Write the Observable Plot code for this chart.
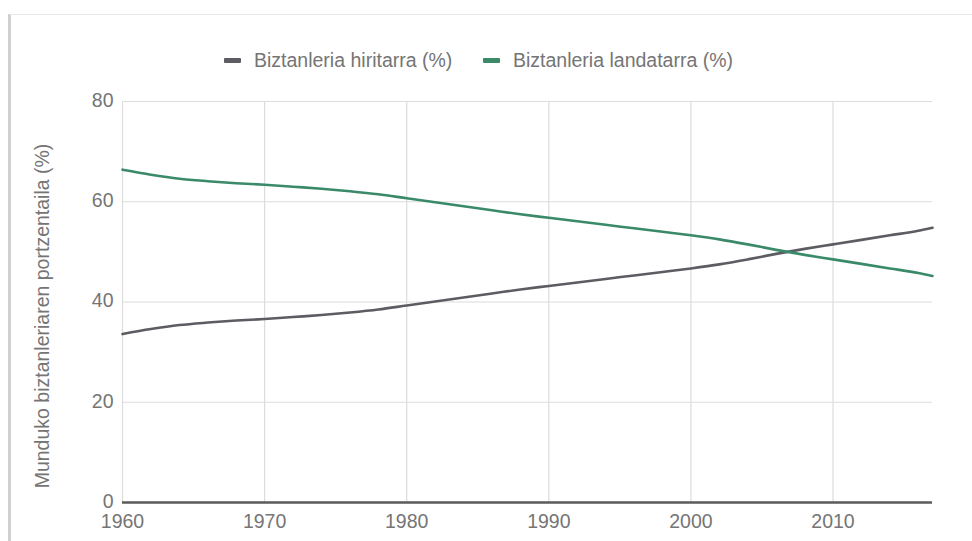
<!DOCTYPE html>
<html><head><meta charset="utf-8">
<script src="https://cdn.jsdelivr.net/npm/d3@7"></script>
<script src="https://cdn.jsdelivr.net/npm/@observablehq/plot@0.6"></script>
<style>
html,body{margin:0;padding:0;background:#fff;width:972px;height:541px;overflow:hidden;font-family:Arial,"Liberation Sans",sans-serif;}
#frame{position:absolute;left:8px;top:14px;width:964px;height:527px;border-top:1px solid #e6e6e6;border-left:3px solid #d0d0d0;box-sizing:border-box;}
#legend{position:absolute;top:48px;left:0;width:972px;height:24px;font-size:19.5px;color:#757575;}
.item{position:absolute;top:0;display:flex;align-items:center;height:24px;white-space:nowrap;}
.sw{display:inline-block;width:17px;height:5px;border-radius:1px;margin-right:13px;}
#chart{position:absolute;left:0;top:80px;}
#ylabel{position:absolute;left:42px;top:316px;transform:translate(-50%,-50%) rotate(-90deg);white-space:nowrap;font-size:19.5px;color:#757575;}
</style></head>
<body>
<div id="frame"></div>
<div id="legend"></div>
<div id="chart"></div>
<div id="ylabel"></div>
<script>
const seriesNames = ["Biztanleria hiritarra (%)", "Biztanleria landatarra (%)"];
const seriesColors = ["#5c5c62", "#3a8a6a"];
const years = [1960,1962,1964,1966,1968,1970,1972,1974,1976,1978,1980,1982,1984,1986,1988,1990,1992,1994,1996,1998,2000,2002,2004,2006,2008,2010,2012,2014,2016,2017];
const urban = [33.6,34.6,35.4,35.9,36.3,36.6,37.0,37.4,37.9,38.5,39.3,40.1,40.9,41.7,42.5,43.2,43.9,44.6,45.3,46.0,46.7,47.5,48.5,49.6,50.6,51.5,52.4,53.3,54.2,54.8];
const rural = [66.4,65.4,64.6,64.1,63.7,63.4,63.0,62.6,62.1,61.5,60.7,59.9,59.1,58.3,57.5,56.8,56.1,55.4,54.7,54.0,53.3,52.5,51.5,50.4,49.4,48.5,47.6,46.7,45.8,45.2];
const xTicks = [1960,1970,1980,1990,2000,2010];
const yTicks = [0,20,40,60,80];
const yLabel = "Munduko biztanleriaren portzentaila (%)";

const data = [];
years.forEach((y,i)=>{
  data.push({year:y, value:urban[i], series:seriesNames[0]});
  data.push({year:y, value:rural[i], series:seriesNames[1]});
});

// legend
const legend = document.getElementById("legend");
const lx = [224, 483];
seriesNames.forEach((n,i)=>{
  const d = document.createElement("div");
  d.className="item"; d.style.left = lx[i]+"px";
  d.innerHTML = `<span class="sw" style="background:${seriesColors[i]}"></span><span>${n}</span>`;
  legend.appendChild(d);
});
document.getElementById("ylabel").textContent = yLabel;

const chart = Plot.plot({
  width: 972, height: 461,
  marginLeft: 122, marginRight: 40, marginTop: 21, marginBottom: 39,
  style: {fontSize: "19.5px", fontFamily: "Arial, 'Liberation Sans', sans-serif", color: "#757575", background: "transparent"},
  x: {domain: [1960, 2017]},
  y: {domain: [0, 80]},
  color: {domain: seriesNames, range: seriesColors},
  marks: [
    Plot.gridX(xTicks, {stroke: "#dcdcdc", strokeOpacity: 1, strokeWidth: 1.2}),
    Plot.gridY(yTicks, {stroke: "#dcdcdc", strokeOpacity: 1, strokeWidth: 1.2}),
    Plot.axisX(xTicks, {tickSize: 0, tickPadding: 12, tickFormat: d => String(d), label: null, fill: "#757575"}),
    Plot.axisY(yTicks, {tickSize: 0, tickPadding: 9, label: null, fill: "#757575", dy: -1}),
    Plot.ruleY([0], {stroke: "#5a5a5a", strokeWidth: 2.5}),
    Plot.line(data, {x: "year", y: "value", stroke: "series", strokeWidth: 2.6, curve: "monotone-x"})
  ]
});
document.getElementById("chart").appendChild(chart);
</script>
</body></html>
